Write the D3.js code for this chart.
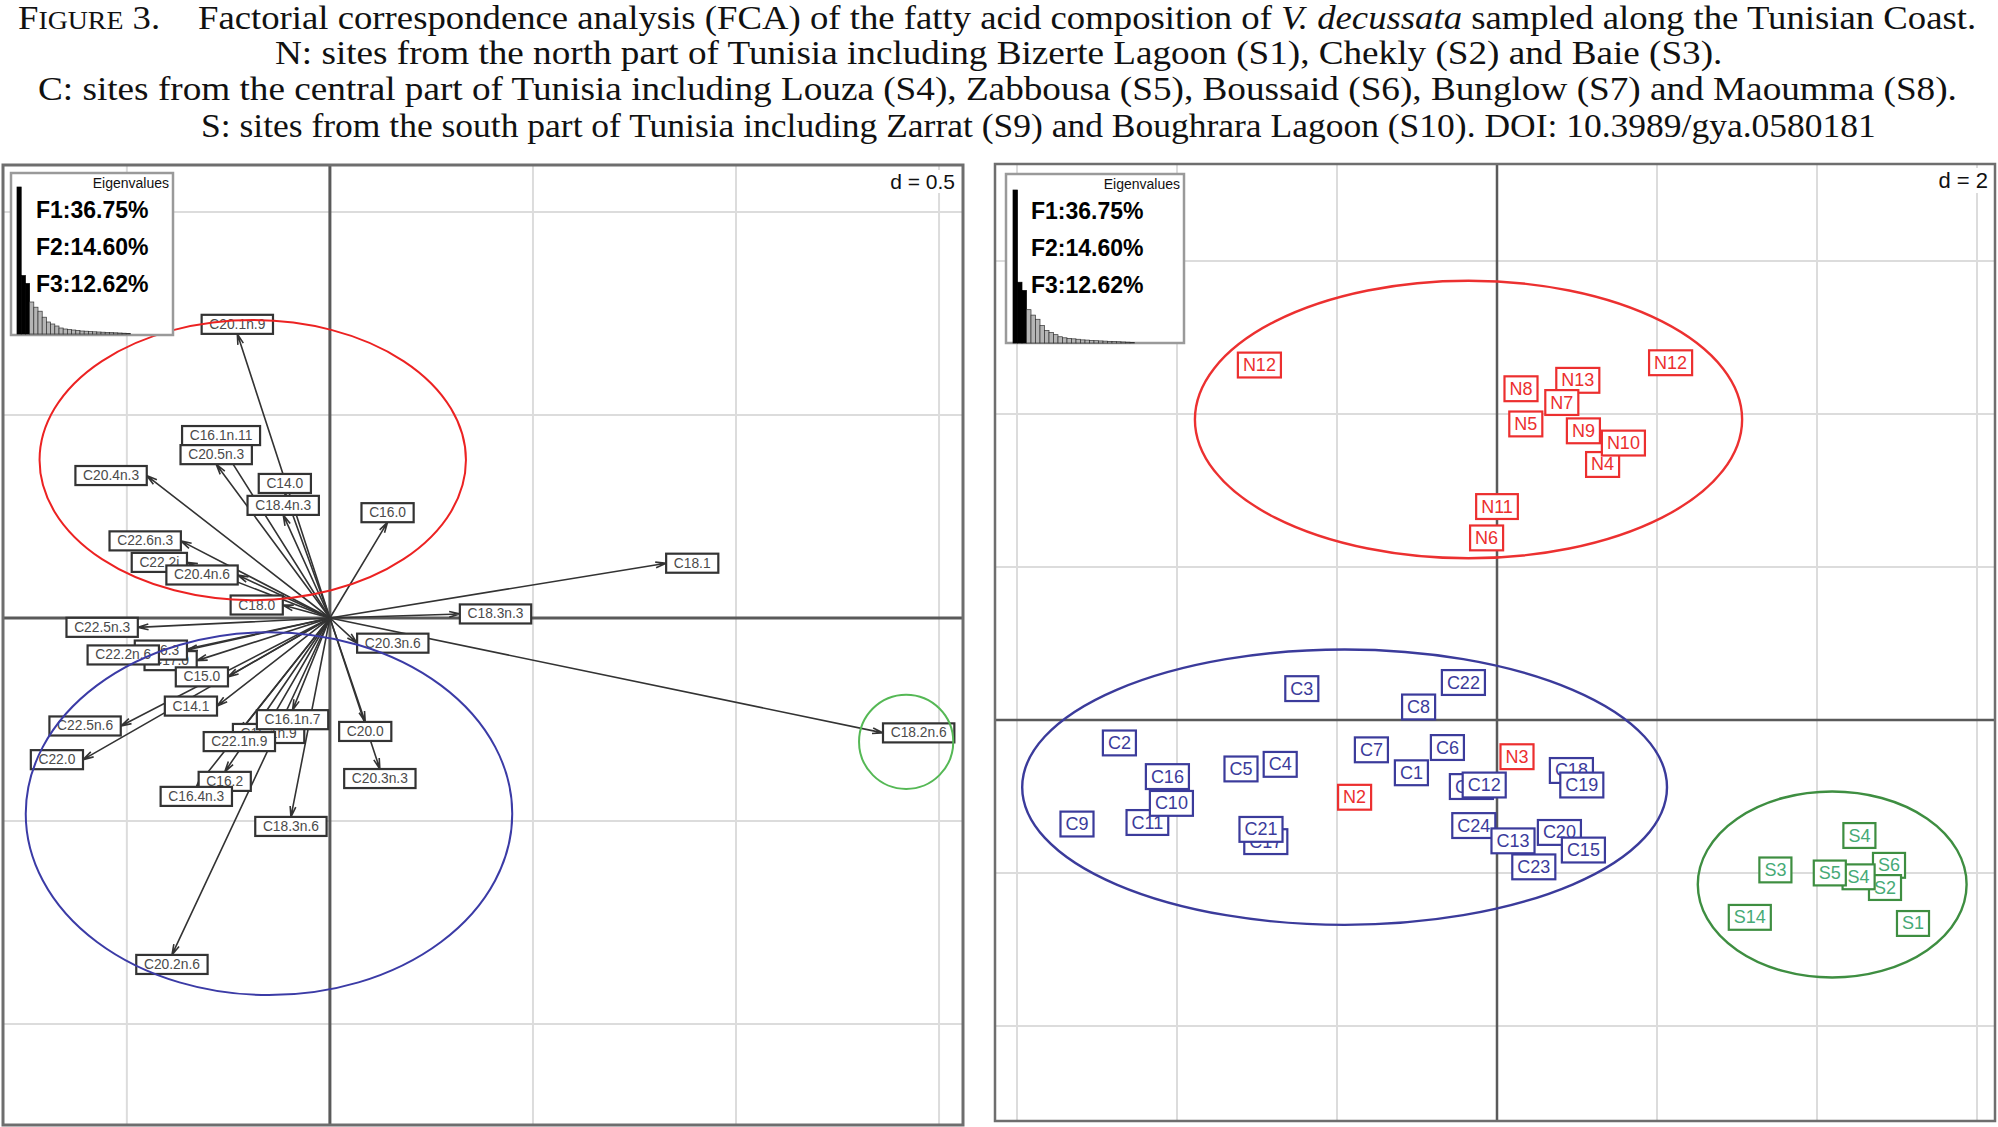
<!DOCTYPE html>
<html>
<head>
<meta charset="utf-8">
<title>FCA of the fatty acid composition of V. decussata</title>
<script src="https://cdn.jsdelivr.net/npm/d3@7/dist/d3.min.js"></script>
<style>
  html, body { margin: 0; padding: 0; background: #fff; }
  svg { display: block; }
</style>
</head>
<body>
<svg id="chart" width="1998" height="1127"></svg>
<script>
// ---------- data ----------
const captionLines = [
  'N: sites from the north part of Tunisia including Bizerte Lagoon (S1), Chekly (S2) and Baie (S3).',
  'C: sites from the central part of Tunisia including Louza (S4), Zabbousa (S5), Boussaid (S6), Bunglow (S7) and Maoumma (S8).',
  'S: sites from the south part of Tunisia including Zarrat (S9) and Boughrara Lagoon (S10). DOI: 10.3989/gya.0580181'
];

// eigenvalues, % of inertia (first three printed in the inset)
const eigenvalues = [36.75, 14.60, 12.62, 8.0, 6.7, 5.7, 4.2, 3.0, 2.5, 2.0, 1.5, 1.25, 1.1,
  1.0, 0.9, 0.75, 0.7, 0.6, 0.55, 0.5, 0.45, 0.4, 0.35, 0.3, 0.25, 0.2, 0.15];
const eigenText = ['F1:36.75%', 'F2:14.60%', 'F3:12.62%'];

// fatty acids (arrow tips on F1 / F2), in drawing order
const acidNames = ['C20.1n.9', 'C16.1n.11', 'C20.5n.3', 'C20.4n.3', 'C14.0', 'C18.4n.3', 'C16.0',
  'C18.1', 'C22.6n.3', 'C22.2i', 'C20.4n.6', 'C18.0', 'C18.3n.3', 'C22.5n.3', 'C20.3n.6', 'C17.0',
  'C16.3', 'C22.2n.6', 'C15.0', 'C14.1', 'C22.5n.6', 'C22.0', 'C16.1n.9', 'C16.1n.7', 'C22.1n.9',
  'C20.0', 'C16.2', 'C16.4n.3', 'C20.3n.3', 'C18.3n.6', 'C18.2n.6', 'C20.2n.6'];
const acidF1 = [-0.228, -0.268, -0.280, -0.451, -0.111, -0.115, 0.142, 0.828, -0.367, -0.352, -0.227,
  -0.116, 0.320, -0.473, 0.067, -0.328, -0.352, -0.421, -0.251, -0.278, -0.515, -0.608, -0.151, -0.092,
  -0.223, 0.087, -0.259, -0.329, 0.123, -0.096, 1.362, -0.389];
const acidF2 = [0.700, 0.426, 0.379, 0.351, 0.308, 0.254, 0.236, 0.135, 0.190, 0.137, 0.106, 0.032,
  0.010, -0.023, -0.062, -0.105, -0.079, -0.091, -0.145, -0.217, -0.266, -0.349, -0.261, -0.227,
  -0.281, -0.256, -0.379, -0.416, -0.372, -0.490, -0.283, -0.830];

// groups and their ellipses
const groups = ['N', 'C', 'S'];
const acidEllX = [-0.190, -0.150, 1.419];
const acidEllY = [0.389, -0.482, -0.305];
const acidEllRx = [0.525, 0.599, 0.116];
const acidEllRy = [0.345, 0.447, 0.116];

// samples, in drawing order
const siteNames = ['N12', 'N12', 'N13', 'N8', 'N7', 'N5', 'N9', 'N4', 'N10', 'N11', 'N6',
  'C3', 'C22', 'C8', 'C2', 'C7', 'C1', 'C6', 'C16', 'C11', 'C10', 'C9', 'C5', 'C4', 'C17', 'C21',
  'C14', 'C12', 'C18', 'C19', 'C24', 'C20', 'C13', 'C15', 'C23', 'N3', 'N2',
  'S4', 'S3', 'S6', 'S2', 'S4', 'S5', 'S14', 'S1'];
const siteGroup = ['N', 'N', 'N', 'N', 'N', 'N', 'N', 'N', 'N', 'N', 'N',
  'C', 'C', 'C', 'C', 'C', 'C', 'C', 'C', 'C', 'C', 'C', 'C', 'C', 'C', 'C',
  'C', 'C', 'C', 'C', 'C', 'C', 'C', 'C', 'C', 'N', 'N',
  'S', 'S', 'S', 'S', 'S', 'S', 'S', 'S'];
const siteF1 = [-2.97, 2.17, 1.01, 0.30, 0.81, 0.36, 1.08, 1.32, 1.58, 0.00, -0.13,
  -2.44, -0.42, -0.98, -4.72, -1.57, -1.07, -0.62, -4.12, -4.37, -4.07, -5.25, -3.20, -2.71, -2.89, -2.95,
  -0.32, -0.16, 0.93, 1.06, -0.29, 0.78, 0.20, 1.08, 0.46, 0.25, -1.78,
  4.53, 3.48, 4.90, 4.85, 4.52, 4.16, 3.16, 5.20];
const siteF2 = [4.64, 4.67, 4.44, 4.33, 4.15, 3.87, 3.78, 3.34, 3.62, 2.79, 2.38,
  0.41, 0.49, 0.17, -0.30, -0.39, -0.69, -0.36, -0.74, -1.34, -1.09, -1.36, -0.64, -0.58, -1.59, -1.43,
  -0.87, -0.85, -0.66, -0.85, -1.38, -1.47, -1.58, -1.70, -1.92, -0.48, -1.01,
  -1.51, -1.96, -1.90, -2.19, -2.05, -2.00, -2.58, -2.66];
const siteEllX = [-0.356, -1.905, 4.19];
const siteEllY = [3.928, -0.878, -2.15];
const siteEllRx = [3.42, 4.03, 1.68];
const siteEllRy = [1.814, 1.80, 1.216];

// ---------- drawing ----------
const svg = d3.select('#chart');
const sans = "'Liberation Sans', Arial, Helvetica, sans-serif";
const serif = "'Liberation Serif', 'Times New Roman', serif";

// caption: each line stretched to the width it takes in the figure
const captionBox = [[18, 1977, 29.5], [275, 1723, 64], [38, 1958, 100.5], [201, 1876, 137]];
const cap = svg.append('g').attr('font-family', serif).attr('font-size', 33).attr('fill', '#111');

function fitLine(t, x0, x1) {
  const bb = t.node().getBBox();
  const s = (x1 - x0) / bb.width;
  t.attr('transform', `translate(${x0 - bb.x * s},0) scale(${s},1)`);
}

const first = cap.append('text').attr('x', 0).attr('y', captionBox[0][2]);
first.append('tspan').text('F');
first.append('tspan').attr('font-size', 25).text('IGURE');
first.append('tspan').text(' 3.');
first.append('tspan').attr('dx', 34).text('Factorial correspondence analysis (FCA) of the fatty acid composition of ');
first.append('tspan').attr('font-style', 'italic').text('V. decussata');
first.append('tspan').text(' sampled along the Tunisian Coast.');
fitLine(first, captionBox[0][0], captionBox[0][1]);

captionLines.forEach((line, i) => {
  const t = cap.append('text').attr('x', 0).attr('y', captionBox[i + 1][2]).text(line);
  fitLine(t, captionBox[i + 1][0], captionBox[i + 1][1]);
});

// shared pieces
function drawFrame(g, sx, sy, gx, gy, frameW, axisW, gridW) {
  const [x0, x1] = sx.range(), [y1, y0] = sy.range();
  g.append('rect').attr('x', x0).attr('y', y0).attr('width', x1 - x0).attr('height', y1 - y0)
    .attr('fill', '#fff');
  g.selectAll('.gx').data(gx).join('line').attr('class', 'gx')
    .attr('x1', d => sx(d)).attr('x2', d => sx(d)).attr('y1', y0).attr('y2', y1)
    .attr('stroke', '#dcdcdc').attr('stroke-width', gridW);
  g.selectAll('.gy').data(gy).join('line').attr('class', 'gy')
    .attr('y1', d => sy(d)).attr('y2', d => sy(d)).attr('x1', x0).attr('x2', x1)
    .attr('stroke', '#dcdcdc').attr('stroke-width', gridW);
  g.append('line').attr('x1', sx(0)).attr('x2', sx(0)).attr('y1', y0).attr('y2', y1)
    .attr('stroke', '#5a5a5a').attr('stroke-width', axisW);
  g.append('line').attr('y1', sy(0)).attr('y2', sy(0)).attr('x1', x0).attr('x2', x1)
    .attr('stroke', '#5a5a5a').attr('stroke-width', axisW);
  return { x0, x1, y0, y1, frameW };
}

function drawOutline(g, f) {
  g.append('rect').attr('x', f.x0).attr('y', f.y0).attr('width', f.x1 - f.x0).attr('height', f.y1 - f.y0)
    .attr('fill', 'none').attr('stroke', '#6e6e6e').attr('stroke-width', f.frameW);
}

function drawScaleText(g, txt, xr, yb, size) {
  const t = g.append('text').attr('x', xr).attr('y', yb).attr('text-anchor', 'end')
    .attr('font-family', sans).attr('font-size', size).attr('fill', '#111').text(txt);
  const bb = t.node().getBBox();
  g.insert('rect', () => t.node()).attr('x', bb.x - 3).attr('y', bb.y).attr('width', bb.width + 6)
    .attr('height', bb.height).attr('fill', '#fff');
}

function drawEigen(g, box, barX, barW, base, maxH) {
  g.append('rect').attr('x', box[0]).attr('y', box[1]).attr('width', box[2]).attr('height', box[3])
    .attr('fill', '#fff').attr('stroke', '#9a9a9a').attr('stroke-width', 2.5);
  const bx = d3.scaleBand().domain(d3.range(eigenvalues.length))
    .range([barX, barX + barW * eigenvalues.length]);
  const by = d3.scaleLinear().domain([0, eigenvalues[0]]).range([0, maxH]);
  g.selectAll('.eig').data(eigenvalues).join('rect').attr('class', 'eig')
    .attr('x', (d, i) => bx(i)).attr('width', bx.bandwidth())
    .attr('y', d => base - by(d)).attr('height', d => by(d))
    .attr('fill', (d, i) => i < 3 ? '#000' : '#b5b5b5')
    .attr('stroke', (d, i) => i < 3 ? '#000' : '#333').attr('stroke-width', 0.7);
  g.append('text').attr('x', box[0] + box[2] - 4).attr('y', box[1] + 15).attr('text-anchor', 'end')
    .attr('font-family', sans).attr('font-size', 14).attr('fill', '#111').text('Eigenvalues');
  g.selectAll('.eigt').data(eigenText).join('text').attr('class', 'eigt')
    .attr('x', box[0] + 25).attr('y', (d, i) => box[1] + 45 + i * 37)
    .attr('font-family', sans).attr('font-size', 23).attr('font-weight', 'bold').attr('fill', '#000')
    .text(d => d);
}

function drawEllipses(g, sx, sy, cx, cy, rx, ry, colors, width) {
  g.selectAll('.ell').data(groups).join('ellipse').attr('class', 'ell')
    .attr('cx', (d, i) => sx(cx[i])).attr('cy', (d, i) => sy(cy[i]))
    .attr('rx', (d, i) => sx(rx[i]) - sx(0)).attr('ry', (d, i) => sy(0) - sy(ry[i]))
    .attr('fill', 'none').attr('stroke', (d, i) => colors[i]).attr('stroke-width', width);
}

// ---------- left panel: fatty acid arrows ----------
const lx = d3.scaleLinear().domain([-0.805, 1.559]).range([3, 963]);
const ly = d3.scaleLinear().domain([-1.249, 1.116]).range([1125, 165]);
const left = svg.append('g');
const lf = drawFrame(left, lx, ly, d3.range(-1, 4).map(k => k * 0.5), d3.range(-2, 3).map(k => k * 0.5), 3, 3, 2);

const ox = lx(0), oy = ly(0);
const head = 11, headAng = Math.PI / 12;
left.selectAll('.arrow').data(acidNames).join('path').attr('class', 'arrow')
  .attr('d', (d, i) => {
    const x1 = lx(acidF1[i]), y1 = ly(acidF2[i]);
    const a = Math.atan2(y1 - oy, x1 - ox);
    const p = d3.path();
    p.moveTo(ox, oy); p.lineTo(x1, y1);
    p.moveTo(x1 - head * Math.cos(a - headAng), y1 - head * Math.sin(a - headAng));
    p.lineTo(x1, y1);
    p.lineTo(x1 - head * Math.cos(a + headAng), y1 - head * Math.sin(a + headAng));
    return p.toString();
  })
  .attr('fill', 'none').attr('stroke', '#333').attr('stroke-width', 1.6);

// labels around the tips, the way ade4's eti.circ places them
const acidFont = 13.8;
acidNames.forEach((name, i) => {
  const xr = acidF1[i], yr = acidF2[i];
  const g = left.append('g');
  const t = g.append('text').attr('font-family', sans).attr('font-size', acidFont)
    .attr('fill', '#4a4a4a').attr('text-anchor', 'middle').attr('dominant-baseline', 'central').text(name);
  const w = t.node().getComputedTextLength() + acidFont * 0.556 * 2;
  const h = acidFont * 1.38;
  let cx = lx(xr), cy = ly(yr);
  if (xr > yr && xr > -yr) cx += w / 2;
  else if (xr > yr && xr <= -yr) cy += h / 2;
  else if (xr <= yr && xr <= -yr) cx -= w / 2;
  else cy -= h / 2;
  t.attr('x', cx).attr('y', cy);
  g.insert('rect', 'text').attr('x', cx - w / 2).attr('y', cy - h / 2).attr('width', w).attr('height', h)
    .attr('fill', '#fff').attr('stroke', '#333').attr('stroke-width', 2.2);
});

drawEllipses(left, lx, ly, acidEllX, acidEllY, acidEllRx, acidEllRy, ['#ec2222', '#3b3ba6', '#55b855'], 2);
drawEigen(left, [11, 173, 162, 162], 17, 4.2, 334, 147);
drawScaleText(left, 'd = 0.5', 955, 189, 21);
drawOutline(left, lf);

// ---------- right panel: samples ----------
const rx = d3.scaleLinear().domain([-6.275, 6.225]).range([995, 1995]);
const ry = d3.scaleLinear().domain([-5.242, 7.268]).range([1121, 164]);
const right = svg.append('g');
const rf = drawFrame(right, rx, ry, d3.range(-3, 4).map(k => k * 2), d3.range(-2, 4).map(k => k * 2), 2.5, 2.5, 2);

const boxColor = { N: '#ec2f2f', C: '#3b3b9b', S: '#3e8e41' };
const textColor = { N: '#ec2f2f', C: '#3b3b9b', S: '#46aa76' };
const siteFont = 18;
siteNames.forEach((name, i) => {
  const grp = siteGroup[i];
  const g = right.append('g');
  const cx = rx(siteF1[i]), cy = ry(siteF2[i]);
  const t = g.append('text').attr('x', cx).attr('y', cy).attr('font-family', sans).attr('font-size', siteFont)
    .attr('fill', textColor[grp]).attr('text-anchor', 'middle').attr('dominant-baseline', 'central').text(name);
  const w = t.node().getComputedTextLength() + siteFont * 0.278 * 2;
  const h = siteFont * 1.38;
  g.insert('rect', 'text').attr('x', cx - w / 2).attr('y', cy - h / 2).attr('width', w).attr('height', h)
    .attr('fill', '#fff').attr('stroke', boxColor[grp]).attr('stroke-width', 2.2);
});

drawEllipses(right, rx, ry, siteEllX, siteEllY, siteEllRx, siteEllRy, ['#ec3030', '#3b3b9b', '#3e8e41'], 2.4);
drawEigen(right, [1006, 174, 178, 169], 1013, 4.5, 343, 153);
drawScaleText(right, 'd = 2', 1988, 188, 22);
drawOutline(right, rf);
</script>
</body>
</html>
